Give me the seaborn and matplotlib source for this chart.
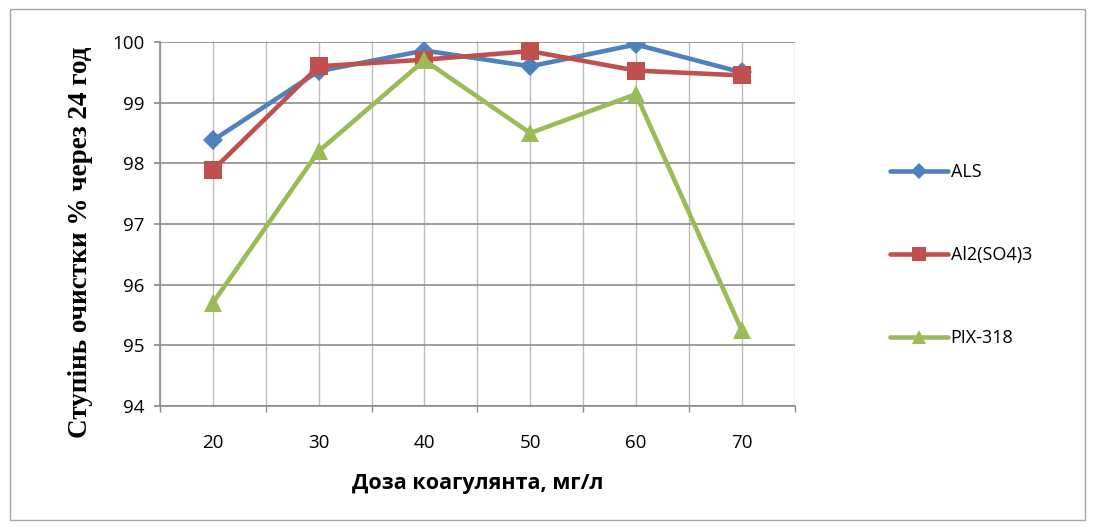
import pandas as pd
import numpy as np
import matplotlib
matplotlib.use("Agg")
import matplotlib.pyplot as plt
import seaborn as sns
from matplotlib.patches import Rectangle
from matplotlib.ticker import MultipleLocator

doses = [20, 30, 40, 50, 60, 70]
als = [98.38, 99.52, 99.86, 99.60, 99.96, 99.50]
al2so43 = [97.89, 99.60, 99.71, 99.85, 99.53, 99.45]
pix318 = [95.70, 98.20, 99.70, 98.50, 99.14, 95.25]

series_names = ["ALS", "Al2(SO4)3", "PIX-318"]
colors = ["#4F81BD", "#C0504D", "#9BBB59"]
markers = ["D", "s", "^"]
marker_sizes = [10, 13, 13]

df = pd.concat([
    pd.DataFrame({"dose": doses, "value": vals, "series": name})
    for name, vals in zip(series_names, [als, al2so43, pix318])
])

sns.set_theme(style="white")
plt.rcParams["font.family"] = ["Open Sans", "DejaVu Sans"]
plt.rcParams["text.color"] = "black"
plt.rcParams["axes.labelcolor"] = "black"
plt.rcParams["xtick.color"] = "black"
plt.rcParams["ytick.color"] = "black"

fig = plt.figure(figsize=(10.96, 5.29), dpi=100)
ax = fig.add_axes([0.146, 0.2325, 0.579, 0.688])

for name, color, m, ms in zip(series_names, colors, markers, marker_sizes):
    sub = df[df["series"] == name]
    sns.lineplot(data=sub, x="dose", y="value", ax=ax, color=color, linewidth=3.3,
                 marker=m, markersize=ms, markeredgewidth=0, label=name)

ax.set_xlim(15, 75)
ax.set_ylim(94, 100)
ax.xaxis.set_major_locator(MultipleLocator(10))
ax.xaxis.set_minor_locator(MultipleLocator(5))
ax.yaxis.set_major_locator(MultipleLocator(1))
ax.grid(True, which="major", axis="y", color="#8C8C8C", linewidth=1.2)
ax.grid(True, which="both", axis="x", color="#BDBDBD", linewidth=1.0)
ax.set_axisbelow(True)
for s in ["top", "right"]:
    ax.spines[s].set_visible(False)
for s in ["left", "bottom"]:
    ax.spines[s].set_color("#8C8C8C")
    ax.spines[s].set_linewidth(1.2)
ax.tick_params(axis="y", which="major", left=True, length=4, color="#8C8C8C", labelsize=13.5, pad=7)
ax.tick_params(axis="x", which="both", bottom=True, length=4, color="#8C8C8C", labelsize=13.5, pad=20)
ax.tick_params(axis="x", which="major", length=0)

ax.set_xlabel("Доза коагулянта, мг/л", fontsize=15.5, fontweight="bold", labelpad=15)
ax.set_ylabel("Ступінь очистки % через 24 год", fontsize=19.5, fontweight="bold",
              family=["Liberation Serif", "DejaVu Serif"])
ax.yaxis.set_label_coords(-0.105, 0.45)

leg = ax.legend(loc="center left", bbox_to_anchor=(1.125, 0.415), frameon=False,
                fontsize=13, handlelength=3.2, labelspacing=3.6, handletextpad=0.15,
                markerscale=0.8)

fig.patches.append(Rectangle((0.009, 0.017), 0.981, 0.966, transform=fig.transFigure,
                             fill=False, edgecolor="#A6A6A6", linewidth=1.0))

plt.savefig("out.png", dpi=100)
plt.close()
